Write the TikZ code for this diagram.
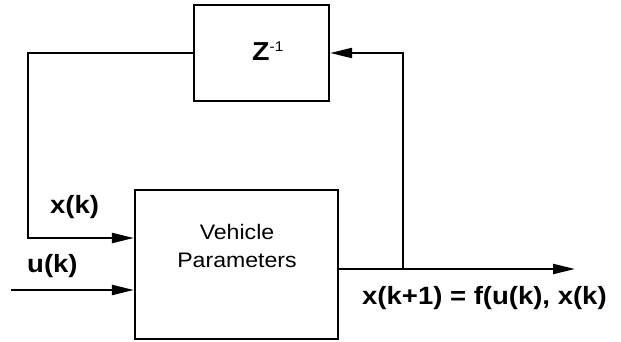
\documentclass[tikz,border=0pt]{standalone}
\usepackage{fontspec}
\setmainfont[FakeStretch=1.1]{Liberation Sans}
\usetikzlibrary{arrows.meta}
\begin{document}
\begin{tikzpicture}[x=1pt,y=-1pt,
  blk/.style={draw,line width=2.2pt,inner sep=0pt},
  wire/.style={line width=2.2pt},
  arr/.style={wire,-{Triangle[length=22pt,width=10pt]}},
  lbl/.style={font=\bfseries\fontsize{25}{29}\selectfont,anchor=base west,inner sep=0pt}]
\useasboundingbox (0,0) rectangle (621,342);
\node[blk,minimum width=135pt,minimum height=96pt] (z) at (261.5,53) {};
\node[anchor=base west,inner sep=0pt] (zt) at (252,61) {\fontsize{26}{30}\selectfont\bfseries Z\raisebox{9pt}{\mdseries\fontsize{14}{16}\selectfont -1}};
\node[blk,minimum width=203pt,minimum height=149pt] (veh) at (236.5,264.5) {};
\node[align=center,font=\fontsize{21}{28}\selectfont,inner sep=0pt] (vt) at (237,246) {Vehicle\\Parameters};
\coordinate (tap) at (403,269);
\coordinate (out) at (575,269);
\coordinate (fb) at (28,238);
\coordinate (uin) at (11,290);
\draw[arr] (veh.east |- tap) -- (out);
\draw[arr] (tap) |- (z.east);
\draw[arr] (z.west) -| (fb) -- (veh.west |- fb);
\draw[arr] (uin) -- (veh.west |- uin);
\node[lbl] (xk) at (50,213) {x(k)};
\node[lbl] (uk) at (27,272) {u(k)};
\node[lbl] (eq) at (362,304) {x(k+1) = f(u(k), x(k)};
\end{tikzpicture}
\end{document}
